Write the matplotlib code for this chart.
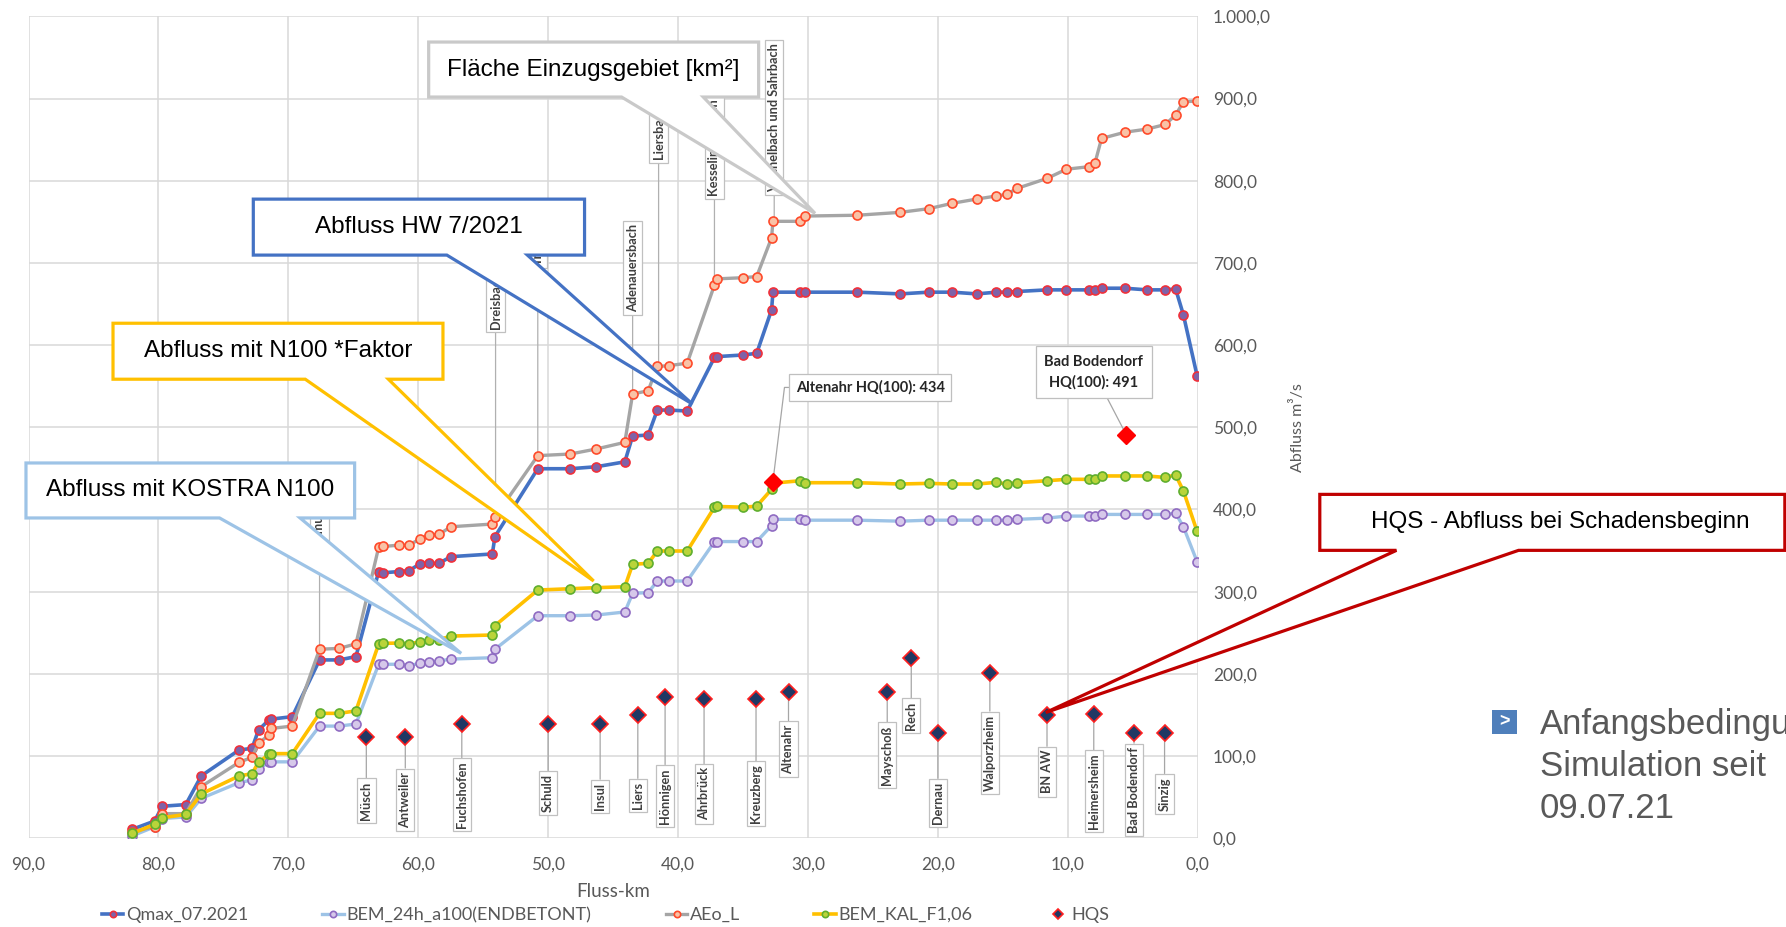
import numpy as np
import matplotlib
matplotlib.use("Agg")
import matplotlib.pyplot as plt
from matplotlib.patches import Polygon, Rectangle
from matplotlib.ticker import FuncFormatter

# Fluss-km of the calculation points (shared by the four series)
km = [82.0, 80.3, 79.7, 77.9, 76.7, 73.8, 72.8, 72.3, 71.5, 71.3,
      69.7, 67.6, 66.1, 64.8, 63.05, 62.7, 61.5, 60.7, 59.9, 59.2,
      58.4, 57.5, 54.3, 54.1, 50.8, 48.3, 46.3, 44.1, 43.5, 42.3,
      41.6, 40.7, 39.3, 37.2, 37.0, 35.0, 33.95, 32.8, 32.7, 30.6,
      30.2, 26.2, 22.9, 20.7, 18.9, 17.0, 15.5, 14.7, 13.9, 11.6,
      10.1, 8.4, 7.9, 7.4, 5.6, 3.9, 2.5, 1.7, 1.1, 0.05]

qmax = [11, 21, 39, 41, 76, 107.4, 109.4, 131.7, 143.9, 145,
        148, 217, 217, 221, 324.5, 323, 324.5, 325.6, 333.7, 334.5,
        334.5, 342.6, 345.9, 367, 449.6, 449.6, 452, 458, 489.4, 490.6,
        521, 521, 519.8, 585, 586, 588, 590, 643, 664.4, 664.4,
        664.4, 664.4, 662.3, 664.4, 664.4, 662.3, 664.4, 664.4, 665.2, 667.2,
        667.2, 667.2, 667.2, 669.2, 669.2, 667.2, 667.2, 668.4, 636.8, 563]

bem_24h = [3, 14, 24, 26, 48.6, 67.7, 70.9, 83.9, 93, 93,
           93, 136.5, 136.5, 139, 211.7, 211.7, 211.7, 210, 212.8, 214.5,
           215.7, 218, 219.7, 230, 270.8, 270.8, 271.6, 275.3, 298, 298.9,
           313, 313, 313, 360.8, 361, 361, 361, 380.5, 388, 388,
           387, 387, 385.8, 387, 387, 387, 387, 387, 388, 389.5,
           392, 392, 392, 394, 394, 394, 394, 395.5, 379, 336.7]

aeo_l = [8, 14, 30, 30, 63, 92.4, 98.5, 115.5, 125.6, 133.7,
         136.5, 230, 231, 236.5, 354, 355, 356.6, 356.7, 364, 369,
         369.7, 379, 382.3, 391, 465.5, 467.5, 473.6, 481.7, 540.5, 544.5,
         574, 575, 578, 673, 680.6, 682, 683.4, 730.7, 750.6, 750.6,
         757, 758, 761.5, 766, 772.5, 777.7, 781.4, 783.4, 790.7, 802.8,
         814, 817, 822, 851.4, 859, 862.8, 868.4, 879.8, 896, 897]

bem_kal = [6, 17, 25, 29, 54, 75.8, 78.6, 92.4, 102, 103,
           103, 152, 152, 155, 236.4, 237.2, 237.5, 236.4, 239, 241,
           241.5, 246, 247.3, 258.7, 302, 303.6, 304.9, 306, 333.3, 334.5,
           349.5, 349.5, 349.5, 402.8, 403.7, 402.8, 404, 424.6, 432, 435,
           432.6, 432.6, 431, 431.8, 431, 431, 433, 431, 432.6, 435,
           436.7, 436.7, 436.7, 440.8, 440.8, 440.8, 439, 442, 422.6, 373.6]

# HQS - discharge at start of damage per gauge/town
hqs_names = ["Müsch", "Antweiler", "Fuchshofen", "Schuld", "Insul", "Liers",
             "Hönnigen", "Ahrbrück", "Kreuzberg", "Altenahr", "Mayschoß", "Rech",
             "Dernau", "Walporzheim", "BN AW", "Heimersheim", "Bad Bodendorf", "Sinzig"]
hqs_km = [64.0, 61.0, 56.65, 50.0, 46.0, 43.1, 41.0, 38.0, 34.0, 31.5,
          23.9, 22.05, 20.0, 16.0, 11.6, 8.0, 4.9, 2.55]
hqs_val = [123, 123, 139, 139, 139, 150, 172, 170, 170, 178.5,
           178.5, 219.5, 128.6, 200.8, 150, 151, 128.6, 128.6]
hqs_label_y = [46, 47, 53, 55, 51, 52, 51.5, 54, 54, 108.7,
               101, 149, 43, 104, 81, 57, 59, 54]

# HQ(100) reference values
hq100_km = [32.7, 5.5]
hq100_val = [434, 491]
hq100_text = ["Altenahr HQ(100): 434", "Bad Bodendorf\nHQ(100): 491"]
hq100_box = [(25.2, 548.5), (8.0, 567.0)]

# tributaries (label box bottom in m³/s units)
trib_names = ["Armuthsbach", "Dreisbach", "Trierbach", "Adenauersbach",
              "Liersbach", "Kesselinger Bach", "Vischelbach und Sahrbach"]
trib_km = [67.6, 54.05, 50.8, 43.5, 41.5, 37.2, 32.6]
trib_point = [230, 388, 465.5, 540.5, 574, 673, 750.6]
trib_bottom = [354, 620, 698, 640, 826, 782, 786]

x_ticks = np.arange(0, 91, 10)
y_ticks = np.arange(0, 1001, 100)

plt.rcParams['font.family'] = ['Lato', 'DejaVu Sans']

fig = plt.figure(figsize=(17.86, 9.27), dpi=100)
ax = fig.add_axes([0.016, 0.0957, 0.6546, 0.8867])

ax.set_xlim(90, 0)
ax.set_ylim(0, 1000)
ax.set_xticks(x_ticks)
ax.set_yticks(y_ticks)
for s in ax.spines.values():
    s.set_visible(False)
ax.grid(True, color='#d9d9d9', lw=1.1)
ax.set_axisbelow(True)


def de_fmt(v, pos):
    s = f"{v:,.1f}"
    return s.replace(',', 'X').replace('.', ',').replace('X', '.')


ax.xaxis.set_major_formatter(FuncFormatter(de_fmt))
ax.yaxis.set_major_formatter(FuncFormatter(de_fmt))
ax.yaxis.tick_right()
ax.tick_params(axis='both', length=0, labelsize=12.5, labelcolor='#595959')
ax.tick_params(axis='y', pad=11)
ax.tick_params(axis='x', pad=13)

ax.set_xlabel("Fluss-km", fontsize=13.5, color='#595959', labelpad=8)
ax.yaxis.set_label_position('right')
ax.set_ylabel("Abfluss m³/s", fontsize=11.5, color='#595959', labelpad=14)

ms = 6.5
h_q, = ax.plot(km, qmax, color='#4472c4', lw=2.6, marker='o', ms=ms,
               mfc='#7f62a8', mec='#f0303a', mew=1.2, zorder=3, label='Qmax_07.2021')
h_b, = ax.plot(km, bem_24h, color='#9dc3e6', lw=2.4, marker='o', ms=ms,
               mfc='#d6c8ea', mec='#8f6bc2', mew=1.2, zorder=3, label='BEM_24h_a100(ENDBETONT)')
h_a, = ax.plot(km, aeo_l, color='#a5a5a5', lw=2.4, marker='o', ms=ms,
               mfc='#f9c2a6', mec='#ff4a2a', mew=1.2, zorder=3, label='AEo_L')
h_k, = ax.plot(km, bem_kal, color='#ffc000', lw=2.6, marker='o', ms=ms,
               mfc='#b9d43a', mec='#5fae2e', mew=1.2, zorder=3, label='BEM_KAL_F1,06')
h_h, = ax.plot(hqs_km, hqs_val, ls='none', marker='D', ms=8,
               mfc='#203864', mec='#ff2020', mew=1.2, zorder=6, label='HQS')

ax.plot(hq100_km, hq100_val, ls='none', marker='D', ms=9, color='#ff0000', zorder=6)

lab_box = dict(boxstyle='square,pad=0.25', fc='white', ec='#c0c0c0', lw=0.9)
lead = dict(arrowstyle='-', color='#a6a6a6', lw=0.9, shrinkA=0, shrinkB=3)

for name, x, y, ly in zip(hqs_names, hqs_km, hqs_val, hqs_label_y):
    ax.annotate(name, xy=(x, y), xytext=(x, ly), rotation=90, ha='center', va='center',
                fontsize=9.2, fontweight='bold', color='#404040', bbox=lab_box,
                arrowprops=lead, zorder=4)

for name, x, py, by in zip(trib_names, trib_km, trib_point, trib_bottom):
    ax.annotate(name, xy=(x, py), xytext=(x, by), rotation=90, ha='center', va='bottom',
                fontsize=9.2, fontweight='bold', color='#404040', bbox=lab_box,
                arrowprops=dict(arrowstyle='-', color='#b0b0b0', lw=0.9, shrinkA=0, shrinkB=0),
                zorder=2.5)

ax.annotate(hq100_text[0], xy=(hq100_km[0], hq100_val[0]), xytext=hq100_box[0],
            ha='center', va='center', fontsize=10.5, fontweight='bold', color='#262626',
            bbox=dict(boxstyle='square,pad=0.45', fc='white', ec='#bfbfbf', lw=0.9),
            arrowprops=dict(arrowstyle='-', color='#a6a6a6', lw=0.9, shrinkA=0, shrinkB=4,
                            connectionstyle='angle,angleA=0,angleB=83,rad=0'),
            zorder=5)
ax.annotate(hq100_text[1], xy=(hq100_km[1], hq100_val[1]), xytext=hq100_box[1],
            ha='center', va='center', fontsize=10.5, fontweight='bold', color='#262626',
            linespacing=1.5,
            bbox=dict(boxstyle='square,pad=0.6', fc='white', ec='#bfbfbf', lw=0.9),
            arrowprops=dict(arrowstyle='-', color='#a6a6a6', lw=0.9, shrinkA=0, shrinkB=4),
            zorder=5)


def callout(x0, x1, y0, y1, bx0, bx1, tip, color, text, tx=None):
    verts = [(x0, y1), (x1, y1), (x1, y0), (bx1, y0), tip, (bx0, y0), (x0, y0)]
    ax.add_patch(Polygon(verts, closed=True, fc='white', ec=color, lw=2.3,
                         joinstyle='miter', clip_on=False, zorder=10))
    cx = (x0 + x1) / 2 if tx is None else tx
    ax.text(cx, (y0 + y1) / 2, text, ha='center', va='center', fontsize=17.5,
            family=['Liberation Sans', 'DejaVu Sans'], color='black',
            clip_on=False, zorder=11)


callout(59.2, 33.8, 901.8, 968.7, 44.35, 38.06, (29.46, 760.3), '#c9c9c9',
        "Fläche Einzugsgebiet [km²]")
callout(72.7, 47.2, 709.5, 777.6, 57.8, 51.6, (38.9, 528.3), '#4472c4',
        "Abfluss HW 7/2021")
callout(83.5, 58.1, 558.5, 626.6, 68.7, 62.3, (46.5, 313), '#ffc000',
        "Abfluss mit N100 *Faktor")
callout(90.2, 64.9, 389.7, 456.6, 75.3, 69.1, (56.7, 225), '#9dc3e6',
        "Abfluss mit KOSTRA N100")
callout(-9.4, -45.2, 350.3, 418.4, -15.3, -24.7, (11.7, 153), '#c00000',
        "HQS - Abfluss bei Schadensbeginn", tx=-27.9)

fig.legend(handles=[h_q, h_b, h_a, h_k, h_h], loc='center', bbox_to_anchor=(0.339, 0.013),
           ncol=5, frameon=False, fontsize=13, labelcolor='#595959',
           handlelength=1.2, handletextpad=0.15, columnspacing=4.1, markerscale=0.7)

# slide text on the right
fig.add_artist(Rectangle((1492 / 1786, 1 - 734 / 927), 25 / 1786, 24 / 927,
                         transform=fig.transFigure, fc='#4f7fbb', ec='none'))
fig.text(1504.5 / 1786, 1 - 722 / 927, ">", ha='center', va='center', color='white',
         fontsize=13, fontweight='bold', family=['Liberation Sans'])
rt = dict(fontsize=25, color='#595959', family=['Liberation Sans', 'DejaVu Sans'],
          va='baseline', ha='left')
fig.text(1540 / 1786, 1 - 734 / 927, "Anfangsbedingungen", **rt)
fig.text(1540 / 1786, 1 - 776 / 927, "Simulation seit", **rt)
fig.text(1540 / 1786, 1 - 818 / 927, "09.07.21", **rt)

fig.savefig("out.png", dpi=100)
